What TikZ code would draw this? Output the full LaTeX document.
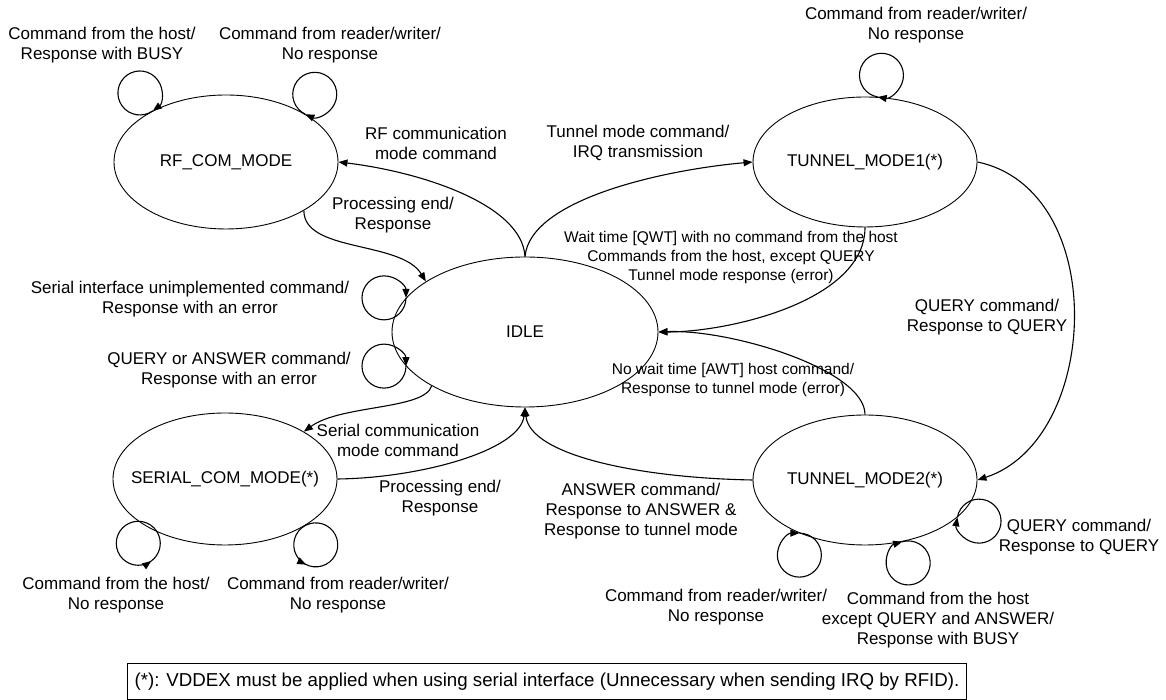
\documentclass[tikz,border=0pt]{standalone}
\usepackage{fontspec}
\setmainfont{Liberation Sans}
\usetikzlibrary{shapes.geometric,arrows.meta,decorations.markings}

\tikzset{
  modestate/.style={draw, ellipse, line width=0.9pt, inner sep=0pt, minimum width=224pt, minimum height=130pt},
  trans/.style={-{Triangle[length=9pt,width=7pt]}, line width=1.1pt},
  selfloop/.style={line width=1.1pt},
  lbl/.style={align=center, inner sep=0pt},
  smalllbl/.style={lbl, font=\fontsize{15.5}{19}\selectfont},
}

\begin{document}
\begin{tikzpicture}[x=1pt, y=1pt, font=\fontsize{17}{20}\selectfont]
\useasboundingbox (0,0) rectangle (1166,700);

% states
\node[modestate, minimum height=134pt, label=center:{RF\_COM\_MODE}] (rf) at (226,538) {};
\node[modestate, minimum width=266pt, minimum height=150pt, label=center:{IDLE}] (idle) at (525,368) {};
\node[modestate, label=center:{TUNNEL\_MODE1(*)}] (t1) at (865,538) {};
\node[modestate, minimum height=132pt, label=center:{SERIAL\_COM\_MODE(*)}] (serial) at (225,221) {};
\node[modestate, label=center:{TUNNEL\_MODE2(*)}] (t2) at (865,220) {};

% transitions
\draw[trans] (idle.north) .. controls +(-3,52) and +(83,-10) .. (rf.east);
\draw[trans] (idle.north) .. controls +(5,57) and +(-90,-8) .. (t1.west);
\draw[trans] (rf.-32) .. controls +(0,-42) and +(-25,41) .. (idle.153);
\draw[trans] (t1.south) .. controls +(0,-73) and +(72,0) .. (idle.east);
\draw[trans] (t2.north) .. controls +(0,45) and +(72,3) .. (idle.east);
\draw[trans] (t1.east) .. controls +(133,-28) and +(123,40) .. (t2.east);
\draw[trans] (idle.210) .. controls +(-7,-24) and +(37,27) .. (serial.31);
\draw[trans] (serial.east) .. controls +(83,1) and +(-5,-43) .. (idle.south);
\draw[trans] (t2.west) .. controls +(-113,2) and +(5,-48) .. (idle.south);

% self loops
\foreach \nd/\an/\st in {rf/145/-54, rf/31/-115, t1/79/-100, idle/164/0, idle/196/0, t2/219/90, t2/-59/106, t2/-22/170}
  \draw[trans] (\nd.\an) arc[start angle=\st, delta angle=-360, radius=22];
\foreach \an/\st/\pos in {206/90/0.6, -30/118/0.35}
  \draw[selfloop, postaction={decorate, decoration={markings, mark=at position \pos with {\arrow{Triangle[length=9pt,width=7pt]}}}}]
    (serial.\an) arc[start angle=\st, delta angle=360, radius=22];

% labels
\node[lbl] (lrfcmd) at (436,557) {RF communication\\mode command};
\node[lbl] (ltuncmd) at (638,557) {Tunnel mode command/\\IRQ transmission};
\node[lbl] (lrfend) at (393,485) {Processing end/\\Response};
\node[smalllbl] (lwait) at (731,442) {Wait time [QWT] with no command from the host\\Commands from the host, except QUERY\\Tunnel mode response (error)};
\node[smalllbl] (lnowait) at (733,320) {No wait time [AWT] host command/\\Response to tunnel mode (error)};
\node[lbl] (lquery) at (987,383) {QUERY command/\\Response to QUERY};
\node[lbl] (lanswer) at (641,189) {ANSWER command/\\Response to ANSWER \&\\Response to tunnel mode};
\node[lbl] (lsercmd) at (398,260) {Serial communication\\mode command};
\node[lbl] (lserend) at (440,202) {Processing end/\\Response};
\node[lbl] (lunimpl) at (190,401) {Serial interface unimplemented command/\\Response with an error};
\node[lbl] (lqa) at (229,330) {QUERY or ANSWER command/\\Response with an error};
\node[lbl] (lrfhost) at (102,655) {Command from the host/\\Response with BUSY};
\node[lbl] (lrfrw) at (330,655) {Command from reader/writer/\\No response};
\node[lbl] (lt1rw) at (916,674.5) {Command from reader/writer/\\No response};
\node[lbl] (lserhost) at (116,105) {Command from the host/\\No response};
\node[lbl] (lserrw) at (338,105) {Command from reader/writer/\\No response};
\node[lbl] (lt2rw) at (716,92.5) {Command from reader/writer/\\No response};
\node[lbl] (lt2host) at (938,80) {Command from the host\\except QUERY and ANSWER/\\Response with BUSY};
\node[lbl] (lt2query) at (1079,163) {QUERY command/\\Response to QUERY};

% note
\node[draw, line width=0.9pt, inner xsep=7pt, minimum height=36pt, font=\fontsize{18.7}{22}\selectfont] (note) at (547,18.5)
  {(*): VDDEX must be applied when using serial interface (Unnecessary when sending IRQ by RFID).};
\end{tikzpicture}
\end{document}
